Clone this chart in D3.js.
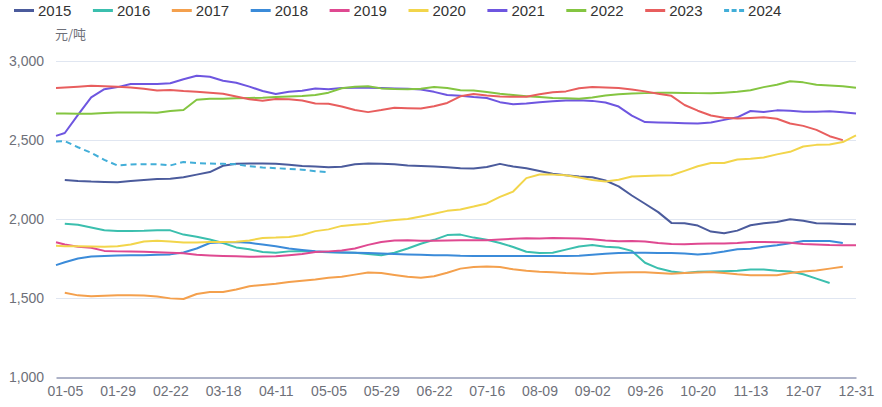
<!DOCTYPE html>
<html><head><meta charset="utf-8">
<script src="https://cdn.jsdelivr.net/npm/d3@7/dist/d3.min.js"></script>
<style>body{margin:0;background:#fff}svg{display:block}text{font-family:"Liberation Sans",Arial,sans-serif}</style>
</head><body><svg id="c" width="882" height="407"></svg>
<script>
// day-of-year sample positions (0 = 01-01)
const days = [0,4,10,16,22,28,34,40,46,52,58,64,70,76,82,88,94,100,106,112,118,124,130,136,142,148,154,160,166,172,178,184,190,196,202,208,214,220,226,232,238,244,250,256,262,268,274,280,286,292,298,304,310,316,322,328,334,340,346,352,358,364];
const tickDays = [4,28,52,76,100,124,148,172,196,220,244,268,292,316,340,364];
const tickLabels = ["01-05","01-29","02-22","03-18","04-11","05-05","05-29","06-22","07-16","08-09","09-02","09-26","10-20","11-13","12-07","12-31"];
const yTicks = [1000,1500,2000,2500,3000];
const seriesNames = ["2015","2016","2017","2018","2019","2020","2021","2022","2023","2024"];
const seriesColors = ["#4b5b9c","#3bbfae","#f4a04d","#3b8bd9","#df4991","#f2d54b","#6e56e0","#84c541","#e85e5e","#42aed8"];

const v2015 = [null, 2248,2242,2238,2236,2234,2242,2248,2254,2256,2265, 2282,2298,2338,2350,2352,2352,2350,2344,2336,2333, 2328,2332,2348,2352,2350,2347,2340,2336,2333,2329, 2322,2320,2330,2350,2333,2322,2305,2288,2278,2270, 2265,2245,2208,2150,2098,2045,1977,1975,1960,1922, 1911,1928,1962,1975,1983,2000,1990,1975,1973,1970, 1968];
const v2016 = [null, 1972,1965,1948,1930,1926,1926,1927,1930,1930,1903, 1890,1872,1850,1822,1810,1793,1788,1797,1800,1795, 1792,1790,1788,1780,1772,1788,1815,1845,1870,1900, 1903,1884,1870,1850,1825,1795,1786,1788,1808,1828, 1838,1826,1822,1800,1725,1690,1670,1660,1668,1670, 1672,1675,1682,1683,1675,1670,1652,1625,1597,null, null];
const v2017 = [null, 1536,1519,1514,1516,1519,1519,1518,1512,1500,1496, 1528,1540,1540,1556,1577,1585,1592,1604,1612,1620, 1630,1636,1650,1663,1661,1648,1636,1630,1640,1662, 1688,1698,1702,1698,1684,1674,1668,1665,1660,1657, 1654,1660,1663,1665,1665,1660,1656,1660,1663,1667, 1660,1652,1646,1646,1646,1660,1670,1676,1688,1700, null];
const v2018 = [1710, 1728,1752,1764,1768,1771,1772,1772,1775,1778,1790, 1815,1850,1854,1856,1851,1840,1830,1815,1806,1798, 1793,1790,1788,1786,1784,1780,1777,1775,1773,1772, 1769,1768,1768,1768,1768,1768,1768,1768,1768,1770, 1776,1782,1787,1788,1788,1787,1787,1783,1778,1784, 1796,1810,1814,1826,1836,1848,1862,1863,1862,1850, null];
const v2019 = [1855, 1840,1826,1820,1800,1797,1796,1794,1792,1789,1785, 1775,1771,1768,1766,1763,1764,1766,1773,1780,1793, 1797,1802,1815,1838,1856,1866,1867,1864,1864,1866, 1867,1867,1867,1872,1876,1880,1879,1882,1880,1878, 1874,1866,1861,1862,1860,1850,1843,1842,1845,1846, 1847,1850,1856,1856,1854,1852,1844,1840,1837,1836, 1836];
const v2020 = [1832, 1830,1829,1828,1826,1830,1840,1860,1864,1860,1853, 1853,1856,1857,1858,1866,1882,1884,1888,1900,1925, 1936,1958,1965,1972,1985,1995,2002,2018,2035,2053, 2062,2080,2100,2141,2175,2260,2283,2282,2278,2264, 2248,2238,2250,2270,2274,2276,2278,2306,2335,2355, 2356,2378,2382,2390,2410,2426,2460,2470,2473,2488, 2530];
const v2021 = [2527, 2545,2660,2770,2822,2835,2855,2855,2855,2859,2885, 2907,2900,2875,2863,2838,2810,2791,2806,2812,2826, 2822,2830,2831,2831,2830,2827,2825,2820,2805,2785, 2780,2772,2766,2740,2727,2732,2740,2745,2750,2752, 2748,2738,2712,2655,2614,2612,2610,2607,2605,2612, 2628,2644,2684,2678,2688,2685,2680,2680,2682,2676, 2668];
const v2022 = [2668, 2668,2666,2667,2672,2674,2675,2674,2673,2684,2690, 2755,2762,2762,2764,2766,2768,2772,2776,2779,2785, 2800,2828,2838,2840,2827,2823,2821,2825,2836,2830, 2815,2814,2804,2793,2785,2778,2772,2766,2764,2762, 2770,2782,2790,2795,2797,2800,2800,2798,2797,2796, 2800,2805,2815,2835,2850,2872,2865,2850,2845,2840, 2831];
const v2023 = [2830, 2833,2838,2843,2840,2838,2833,2824,2814,2816,2810, 2806,2800,2793,2776,2758,2749,2760,2758,2750,2732, 2730,2712,2690,2677,2690,2705,2702,2700,2714,2735, 2777,2791,2782,2776,2774,2774,2790,2802,2808,2828, 2835,2833,2830,2820,2808,2793,2780,2722,2686,2656, 2642,2637,2640,2644,2635,2605,2590,2565,2525,2500, null];
const v2024 = [2492, 2494,2455,2420,2375,2340,2346,2348,2348,2340,2362, 2355,2352,2350,2347,2335,2327,2323,2318,2313,2304, 2297];
const seriesValues = [v2015,v2016,v2017,v2018,v2019,v2020,v2021,v2022,v2023,v2024];

const svg = d3.select("#c");
const x = d3.scaleLinear().domain([0,364]).range([56,856]);
const y = d3.scaleLinear().domain([1000,3000]).range([377.5,61]);

// grid
svg.append("g").selectAll("line").data(yTicks.filter(t=>t>1000)).join("line")
  .attr("x1",56).attr("x2",856).attr("y1",d=>Math.round(y(d))+0.5).attr("y2",d=>Math.round(y(d))+0.5)
  .attr("stroke","#e0e6f1").attr("stroke-width",1);

// y axis labels
const yAxis = d3.axisLeft(y).tickValues(yTicks).tickFormat(d3.format(",")).tickSize(0).tickPadding(12);
const gy = svg.append("g").attr("transform","translate(56,0)").call(yAxis);
gy.select(".domain").remove();
gy.selectAll("text").attr("font-size",14).attr("fill","#6e7079").style("font-family","'Liberation Sans',Arial,sans-serif");

// x axis
const xAxis = d3.axisBottom(x).tickValues(tickDays).tickFormat((d,i)=>tickLabels[i]).tickSize(0).tickPadding(9);
const gx = svg.append("g").attr("transform","translate(0,377.5)").call(xAxis);
gx.select(".domain").attr("stroke","#5c6690").attr("stroke-width",1);
gx.selectAll("text").attr("font-size",14).attr("fill","#6e7079").style("font-family","'Liberation Sans',Arial,sans-serif");

// unit label
svg.append("text").attr("x",55).attr("y",39).attr("font-size",13).attr("fill","#6e7079")
  .style("font-family","'Noto Sans CJK SC','Liberation Sans',sans-serif").text("元/吨");

// lines
const line = d3.line().defined(d=>d.v!=null).x(d=>x(d.d)).y(d=>y(d.v));
seriesValues.forEach((vals,i)=>{
  const pts = days.map((d,j)=>({d, v: vals[j]==null?null:vals[j]}));
  svg.append("path").datum(pts).attr("d",line).attr("fill","none")
    .attr("stroke",seriesColors[i]).attr("stroke-width",2).attr("stroke-linejoin","round")
    .attr("stroke-dasharray", seriesNames[i]==="2024" ? "6,4" : null);
});

// legend
const lg = svg.append("g");
seriesNames.forEach((n,i)=>{
  const gx0 = 14 + i*78.9;
  lg.append("line").attr("x1",gx0).attr("x2",gx0+20).attr("y1",10.5).attr("y2",10.5)
    .attr("stroke",seriesColors[i]).attr("stroke-width",3)
    .attr("stroke-dasharray", n==="2024" ? "5,2.5" : null);
  lg.append("text").attr("x",gx0+24).attr("y",16).attr("font-size",15).attr("fill","#333").text(n);
});
</script></body></html>
